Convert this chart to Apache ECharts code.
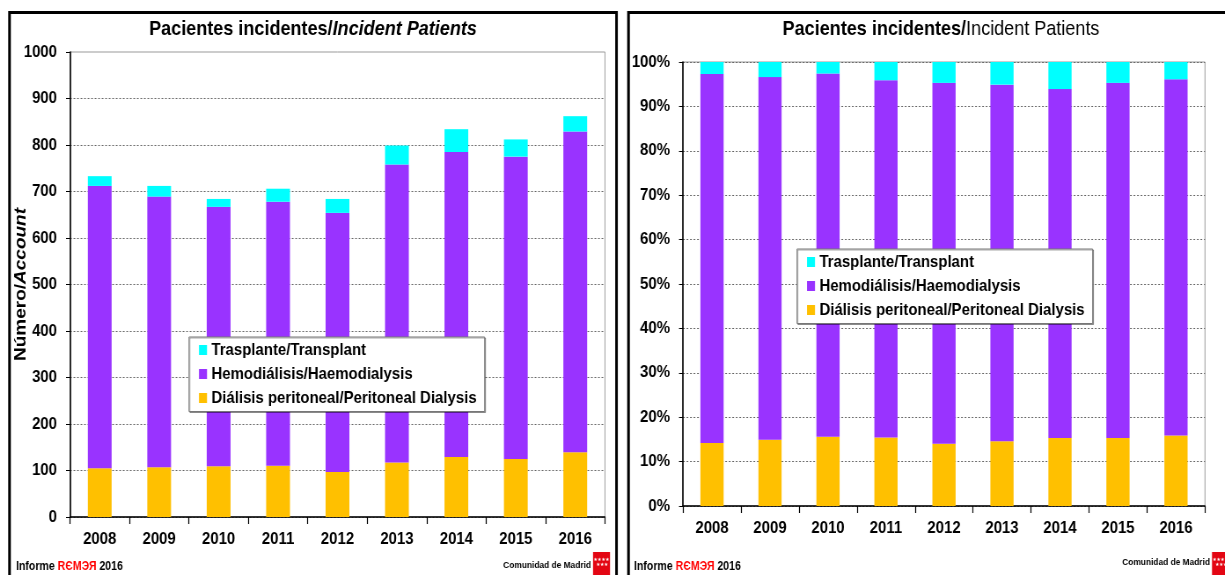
<!DOCTYPE html>
<html>
<head>
<meta charset="utf-8">
<script src="https://cdn.jsdelivr.net/npm/echarts@6/dist/echarts.min.js"></script>
<style>
html,body{margin:0;padding:0;background:#fff;overflow:hidden;width:1225px;height:575px;}
#c{height:575px;transform-origin:0 0;}
</style>
</head>
<body>
<div id="c"></div>
<script>
// ---- data ----
const years = ['2008','2009','2010','2011','2012','2013','2014','2015','2016'];
const seriesNames = ['Trasplante/Transplant','Hemodiálisis/Haemodialysis','Diálisis peritoneal/Peritoneal Dialysis'];
// counts (left chart)
const peritoneal = [105,107,109,110,97,117,129,125,139];
const hemodialysis = [607,582,558,568,557,641,656,650,690];
const transplant = [21,23,17,28,30,41,49,37,33];
// percentages (right chart)
const peritonealPct = [14.2,14.9,15.6,15.4,14.0,14.6,15.3,15.3,15.9];
const hemodialysisPct = [83.1,81.7,81.8,80.5,81.3,80.3,78.6,80.0,80.2];
const transplantPct = [2.7,3.4,2.6,4.1,4.7,5.1,6.1,4.7,3.9];

// the reference is horizontally condensed: draw wider and condense with CSS
const SX = 0.88;
const X = v => v / SX;
const el = document.getElementById('c');
el.style.width = X(1225) + 'px';
el.style.transform = 'scaleX(' + SX + ')';

const FONT = "'Liberation Sans',Arial,sans-serif";
const C_TX = '#00FFFF', C_HD = '#9933FF', C_PD = '#FFC000';

const chart = echarts.init(el, null, {renderer:'canvas'});

function yAxisBase(extra){
  return Object.assign({
    type:'value',
    axisLine:{show:true, lineStyle:{color:'#000', width:1.6}},
    axisTick:{show:true, length:X(4), lineStyle:{color:'#000'}},
    axisLabel:{color:'#000', fontFamily:FONT, fontWeight:'bold', fontSize:17, margin:X(13), formatter:v => String(v)},
    splitLine:{show:true, lineStyle:{color:'#666', type:[2,2], width:1}}
  }, extra);
}
function xAxisBase(extra){
  return Object.assign({
    type:'category', data:years,
    axisLine:{show:true, lineStyle:{color:'#000', width:1.5}},
    axisTick:{show:true, length:7, interval:0, lineStyle:{color:'#000', width:1.2}},
    axisLabel:{color:'#000', fontFamily:FONT, fontWeight:'bold', fontSize:17, margin:14, interval:0}
  }, extra);
}
function bar(name, data, color, xi, yi, stack){
  return {name, type:'bar', stack, data, xAxisIndex:xi, yAxisIndex:yi,
    barWidth:'40%', itemStyle:{color}, emphasis:{disabled:true}};
}
const legendText = {color:'#000', fontFamily:FONT, fontWeight:'bold', fontSize:17, lineHeight:19};
function legendBase(left, top){
  return {orient:'vertical', left:X(left), top, data:seriesNames, icon:'rect', itemWidth:X(8), itemHeight:10,
    itemGap:5, padding:[3.5, X(8), 4, X(10)], backgroundColor:'#fff', borderColor:'#777', borderWidth:1,
    shadowColor:'rgba(0,0,0,0.35)', shadowOffsetX:1, shadowOffsetY:1, shadowBlur:0,
    textStyle:legendText, selectedMode:false};
}
function footer(x){
  return {type:'text', x:X(x), y:567, style:{
    text:'{a|Informe }{r|RЄMЭЯ}{a| 2016}', verticalAlign:'middle',
    rich:{a:{fontFamily:FONT, fontWeight:'bold', fontSize:12, fill:'#000'},
          r:{fontFamily:FONT, fontWeight:'bold', fontSize:12, fill:'#ff0000'}}}};
}
function madrid(xRight, y, logoX, logoY){
  return [
    {type:'text', x:X(xRight), y, style:{text:'Comunidad de Madrid', align:'right', verticalAlign:'middle',
      fontFamily:FONT, fontWeight:'bold', fontSize:9.5, fill:'#000'}},
    {type:'rect', shape:{x:X(logoX), y:logoY, width:X(17), height:24}, style:{fill:'#e30613'}},
    {type:'text', x:X(logoX+8.5), y:logoY+5, style:{text:'★★★★\n ★★★', align:'center', verticalAlign:'top',
      fontSize:5, lineHeight:5, fill:'#fff', fontFamily:'DejaVu Sans'}}
  ];
}

const option = {
  backgroundColor:'#fff',
  animation:false,
  textStyle:{fontFamily:FONT},
  grid:[
    {left:X(70), right:X(620), top:52, bottom:58, containLabel:false, outerBoundsMode:'none',
      show:true, borderColor:'#999', borderWidth:1, backgroundColor:'transparent'},
    {left:X(683), right:X(20), top:62, bottom:69, containLabel:false, outerBoundsMode:'none',
      show:true, borderColor:'#999', borderWidth:1, backgroundColor:'transparent'}
  ],
  xAxis:[ xAxisBase({gridIndex:0}), xAxisBase({gridIndex:1}) ],
  yAxis:[
    yAxisBase({gridIndex:0, min:0, max:1000, interval:100,
      splitLine:{show:true, showMaxLine:false, lineStyle:{color:'#666', type:[2,2], width:1}},
      name:'{a|Número/}{b|Account}', nameLocation:'middle', nameRotate:90, nameGap:X(41), nameMoveOverlap:false,
      nameTextStyle:{rich:{
        a:{fontFamily:FONT, fontWeight:'bold', fontSize:19, color:'#000'},
        b:{fontFamily:FONT, fontWeight:'bold', fontStyle:'italic', fontSize:19, color:'#000'}}}}),
    yAxisBase({gridIndex:1, min:0, max:100, interval:10,
      axisLabel:{color:'#000', fontFamily:FONT, fontWeight:'bold', fontSize:17, margin:X(13), formatter:'{value}%'}})
  ],
  legend:[ legendBase(189, 337), legendBase(797, 249) ],
  series:[
    bar(seriesNames[2], peritoneal, C_PD, 0, 0, 'n'),
    bar(seriesNames[1], hemodialysis, C_HD, 0, 0, 'n'),
    bar(seriesNames[0], transplant, C_TX, 0, 0, 'n'),
    bar(seriesNames[2], peritonealPct, C_PD, 1, 1, 'p'),
    bar(seriesNames[1], hemodialysisPct, C_HD, 1, 1, 'p'),
    bar(seriesNames[0], transplantPct, C_TX, 1, 1, 'p')
  ],
  graphic:[
    {type:'rect', shape:{x:X(9.5), y:12.5, width:X(607), height:600}, style:{fill:'none', stroke:'#000', lineWidth:3}, silent:true},
    {type:'rect', shape:{x:X(628.5), y:12.5, width:X(620), height:600}, style:{fill:'none', stroke:'#000', lineWidth:3}, silent:true},
    {type:'text', x:X(313), y:29, style:{text:'{a|Pacientes incidentes/}{b|Incident Patients}', align:'center', verticalAlign:'middle',
      rich:{a:{fontFamily:FONT, fontWeight:'bold', fontSize:20.5, fill:'#000'},
            b:{fontFamily:FONT, fontWeight:'bold', fontStyle:'italic', fontSize:20.5, fill:'#000'}}}},
    {type:'text', x:X(941), y:29, style:{text:'{a|Pacientes incidentes/}{b|Incident Patients}', align:'center', verticalAlign:'middle',
      rich:{a:{fontFamily:FONT, fontWeight:'bold', fontSize:20.5, fill:'#000'},
            b:{fontFamily:FONT, fontWeight:'normal', fontSize:20.5, fill:'#000'}}}},
    footer(16),
    footer(634),
    ...madrid(591, 565, 593, 552),
    ...madrid(1210, 562, 1212, 552)
  ]
};
chart.setOption(option);
</script>
</body>
</html>
